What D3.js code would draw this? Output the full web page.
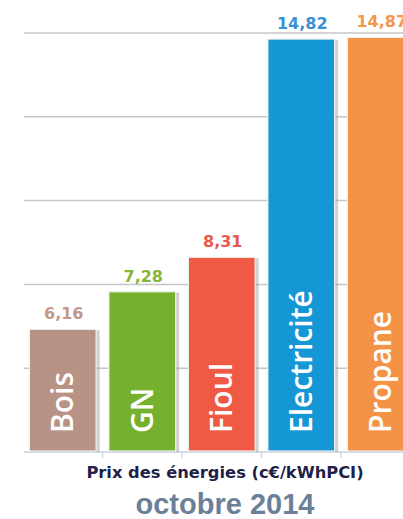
<!DOCTYPE html>
<html>
<head>
<meta charset="utf-8">
<script src="https://cdn.jsdelivr.net/npm/d3@7"></script>
<style>
  body { margin: 0; background: #fff; }
  svg { display: block; }
</style>
</head>
<body>
<div id="chart"></div>
<script>
const energies = ['Bois', 'GN', 'Fioul', 'Electricité', 'Propane']
const prix = [6.16, 7.28, 8.31, 14.82, 14.87]
const labels = ['6,16', '7,28', '8,31', '14,82', '14,87']
const barColors = ['#b89284', '#75b12f', '#f05a45', '#1596d5', '#f49245']
const labelColors = ['#c39888', '#86b53a', '#e85a48', '#3a90d4', '#f5964a']
const yTicks = [2.5, 5, 7.5, 10, 12.5, 15]

const width = 403, height = 519
const margin = {left: 23, top: 33, bottom: 452, right: 420.5}

const svg = d3.select('#chart').append('svg')
    .attr('width', width)
    .attr('height', height)

const x = d3.scaleBand()
    .domain(energies)
    .range([margin.left, margin.right])
    .paddingInner(0.16)
    .paddingOuter(0.08)

const y = d3.scaleLinear()
    .domain([2.5, 15])
    .range([margin.bottom, margin.top])

// gridlines
svg.append('g')
    .selectAll('line')
    .data(yTicks.slice(1))
    .join('line')
    .attr('x1', margin.left + 1)
    .attr('x2', width)
    .attr('y1', d => y(d))
    .attr('y2', d => y(d))
    .style('stroke', '#c6c6c6')
    .style('stroke-width', 1.5)

// bottom axis with ticks between the bands
const xAxis = svg.append('g')
    .attr('transform', `translate(0, ${margin.bottom})`)
    .call(d3.axisBottom(x).tickSize(0).tickFormat(''))
xAxis.select('.domain')
    .attr('d', `M${margin.left + 1},0H${width}`)
    .style('stroke', '#c5d3e2')
    .style('stroke-width', 1.5)
xAxis.selectAll('line.sep')
    .data(energies.slice(1))
    .join('line')
    .attr('class', 'sep')
    .attr('x1', d => x(d) - x.step() * x.paddingInner() / 2)
    .attr('x2', d => x(d) - x.step() * x.paddingInner() / 2)
    .attr('y1', 0)
    .attr('y2', 6)
    .style('stroke', '#c5d3e2')
    .style('stroke-width', 1.2)

const bars = svg.append('g')

// soft shadow on the right of every bar
bars.selectAll('rect.shadow')
    .data(prix)
    .join('rect')
    .attr('class', 'shadow')
    .attr('x', (d, i) => x(energies[i]) + 2)
    .attr('y', d => y(d) + 1)
    .attr('width', x.bandwidth() + 1.5)
    .attr('height', d => margin.bottom - y(d) - 1)
    .style('fill', '#9a9a9a')
    .style('opacity', 0.45)

bars.selectAll('rect.bar')
    .data(prix)
    .join('rect')
    .attr('class', 'bar')
    .attr('x', (d, i) => x(energies[i]))
    .attr('y', d => y(d))
    .attr('width', x.bandwidth())
    .attr('height', d => margin.bottom - y(d) - 1)
    .style('fill', (d, i) => barColors[i])
    .style('stroke', '#f2f2f2')
    .style('stroke-width', 1.2)

// values above bars
svg.append('g')
    .selectAll('text')
    .data(prix)
    .join('text')
    .attr('x', (d, i) => x(energies[i]) + x.bandwidth() / 2 + 1)
    .attr('y', d => y(d) - 10)
    .style('text-anchor', 'middle')
    .style('font-family', 'DejaVu Sans, Verdana, sans-serif')
    .style('font-weight', 'bold')
    .style('font-size', '16px')
    .style('fill', (d, i) => labelColors[i])
    .text((d, i) => labels[i])

// category names written inside the bars
svg.append('g')
    .selectAll('text')
    .data(energies)
    .join('text')
    .attr('transform', d => `translate(${x(d) + x.bandwidth() / 2 + 10.5}, ${margin.bottom - 19})rotate(-90)`)
    .style('font-family', '"Open Sans", sans-serif')
    .style('font-weight', 600)
    .style('font-size', '30px')
    .style('fill', '#fff')
    .text(d => d)

svg.append('text')
    .attr('x', 225)
    .attr('y', 478)
    .style('text-anchor', 'middle')
    .style('font-family', 'DejaVu Sans, Verdana, sans-serif')
    .style('font-weight', 'bold')
    .style('font-size', '16.3px')
    .style('fill', '#1f1f48')
    .text('Prix des énergies (c€/kWhPCI)')

svg.append('text')
    .attr('x', 225)
    .attr('y', 514)
    .style('text-anchor', 'middle')
    .style('font-family', '"Liberation Sans", Arial, sans-serif')
    .style('font-weight', 'bold')
    .style('font-size', '29px')
    .style('fill', '#6c7f98')
    .text('octobre 2014')
</script>
</body>
</html>
